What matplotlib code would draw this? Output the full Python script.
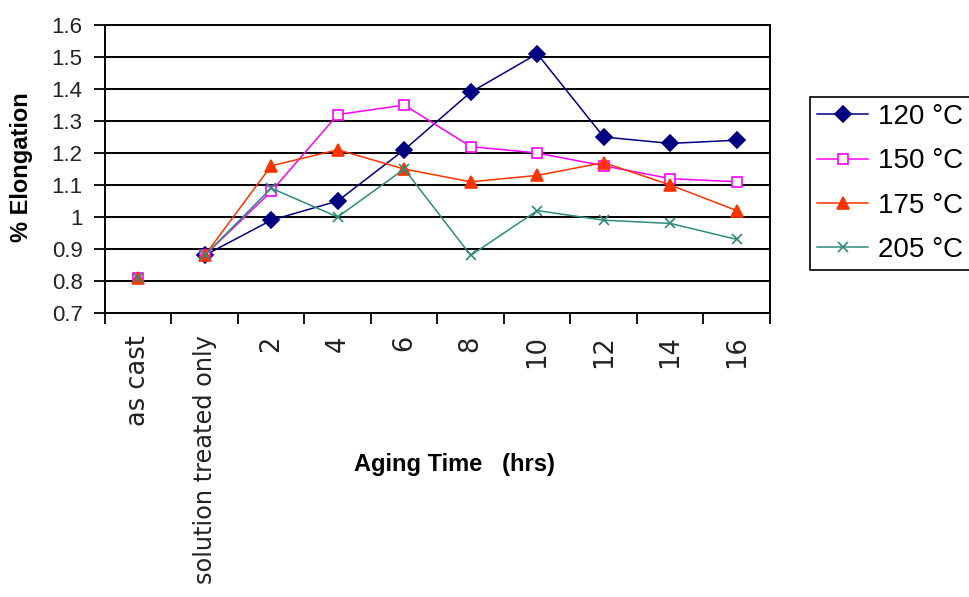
import numpy as np
import matplotlib
matplotlib.use("Agg")
import matplotlib.pyplot as plt

# categories along the x axis
categories = ["as cast", "solution treated only", "2", "4", "6", "8", "10", "12", "14", "16"]

# % elongation per aging temperature (as cast point drawn on its own, no line to it)
as_cast = {"120": np.nan, "150": 0.81, "175": 0.81, "205": 0.81}
elong_120 = [0.88, 0.99, 1.05, 1.21, 1.39, 1.51, 1.25, 1.23, 1.24]
elong_150 = [0.88, 1.08, 1.32, 1.35, 1.22, 1.20, 1.16, 1.12, 1.11]
elong_175 = [0.88, 1.16, 1.21, 1.15, 1.11, 1.13, 1.17, 1.10, 1.02]
elong_205 = [0.88, 1.09, 1.00, 1.15, 0.88, 1.02, 0.99, 0.98, 0.93]

y_ticks = [0.7, 0.8, 0.9, 1.0, 1.1, 1.2, 1.3, 1.4, 1.5, 1.6]
y_labels = ["0.7", "0.8", "0.9", "1", "1.1", "1.2", "1.3", "1.4", "1.5", "1.6"]

plt.rcParams['font.family'] = ['Liberation Sans', 'DejaVu Sans']

fig = plt.figure(figsize=(9.7, 5.97), dpi=100)
ax = fig.add_axes([0.1082, 0.4757, 0.6856, 0.4824])

styles = [
    ("120", elong_120, "#000080", "D", "#000080", 8),
    ("150", elong_150, "#FF00FF", "s", "white", 6.5),
    ("175", elong_175, "#FF3300", "^", "#FF3300", 8),
    ("205", elong_205, "#2E8B7A", "x", "#2E8B7A", 6.5),
]

x_main = np.arange(1, len(categories))
for name, vals, col, mk, fc, ms in styles:
    ax.plot(x_main, vals, color=col, lw=1.1, marker=mk, markersize=ms,
            markerfacecolor=fc, markeredgecolor=col, markeredgewidth=1.2,
            label=f"{name} \u00b0C", zorder=3)
    ax.plot([0], [as_cast[name]], linestyle="none", marker=mk, markersize=ms,
            markerfacecolor=fc, markeredgecolor=col, markeredgewidth=1.2, zorder=3)

ax.set_ylim(0.7, 1.6)
ax.set_xlim(-0.5, len(categories) - 0.5)
ax.set_yticks(y_ticks)
ax.set_yticklabels(y_labels, fontsize=16, color="#222222")
ax.set_xticks(np.arange(len(categories)))
ax.set_xticklabels(categories, rotation=90, fontsize=18.5, color="#222222",
                   va="top", family="DejaVu Sans")
# long label slightly smaller so it stays inside the picture
ax.get_xticklabels()[1].set_fontsize(17.3)
ax.set_xticks(np.arange(-0.5, len(categories)), minor=True)
ax.tick_params(axis="x", which="major", length=0, pad=16)
ax.tick_params(axis="x", which="minor", length=8, width=1.3, direction="out")
ax.tick_params(axis="y", length=8, width=1.3, direction="out", pad=8)

for y in y_ticks[1:-1]:
    ax.axhline(y, color="black", lw=1.4, zorder=1)

for s in ax.spines.values():
    s.set_color("black")
    s.set_linewidth(1.4)

fig.text(22 / 970, 1 - 167 / 597, "% Elongation", rotation=90, ha="center", va="center",
         fontsize=17, fontweight="bold")
fig.text(454 / 970, 1 - 465 / 597, "Aging Time   (hrs)", ha="center", va="center",
         fontsize=17, fontweight="bold")

leg = fig.legend(loc="upper left", bbox_to_anchor=(810 / 970, 1 - 97 / 597), fontsize=20,
                 frameon=True, fancybox=False, edgecolor="black", framealpha=1,
                 handlelength=1.85, labelspacing=0.66, borderpad=0.25, borderaxespad=0,
                 handletextpad=0.35)
leg.get_frame().set_linewidth(1.2)

fig.savefig("out.png", dpi=100)
